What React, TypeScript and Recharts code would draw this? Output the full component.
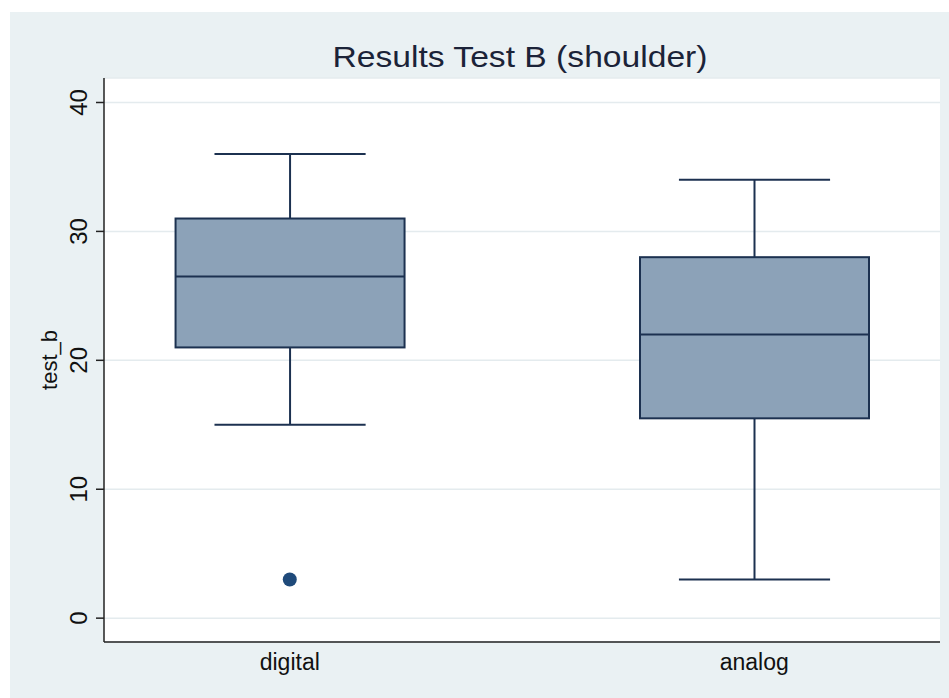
import {
  Bar,
  CartesianGrid,
  ComposedChart,
  Scatter,
  XAxis,
  YAxis,
} from 'recharts';

const GROUPS = ['digital', 'analog'];
const GROUP_POS = [1, 2];
const WHISKER_LOW = [15, 3];
const Q1 = [21, 15.5];
const MEDIAN = [26.5, 22];
const Q3 = [31, 28];
const WHISKER_HIGH = [36, 34];
const OUTLIER_GROUP = [1];
const OUTLIER_VALUE = [3];
const Y_TICKS = [0, 10, 20, 30, 40];

const FONT = '"Liberation Sans", Arial, Helvetica, sans-serif';
const NAVY = '#1C3150';

const boxData = GROUPS.map((name, i) => ({
  name,
  pos: GROUP_POS[i],
  range: [WHISKER_LOW[i], WHISKER_HIGH[i]],
  lo: WHISKER_LOW[i],
  q1: Q1[i],
  med: MEDIAN[i],
  q3: Q3[i],
  hi: WHISKER_HIGH[i],
}));

const outliers = OUTLIER_GROUP.map((g, i) => ({ pos: g, value: OUTLIER_VALUE[i] }));

// the bar spans lo..hi, everything else is placed on the same linear scale
function BoxShape(props: any) {
  const { x, y, width, height, payload } = props;
  const { lo, q1, med, q3, hi } = payload;
  const py = (v: number) => y + (height * (hi - v)) / (hi - lo);
  const cx = x + width / 2;
  const cap = width * 0.33;
  return (
    <g>
      <line x1={cx} x2={cx} y1={py(hi)} y2={py(q3)} stroke={NAVY} strokeWidth={2} />
      <line x1={cx} x2={cx} y1={py(q1)} y2={py(lo)} stroke={NAVY} strokeWidth={2} />
      <line x1={cx - cap} x2={cx + cap} y1={py(hi)} y2={py(hi)} stroke={NAVY} strokeWidth={2} />
      <line x1={cx - cap} x2={cx + cap} y1={py(lo)} y2={py(lo)} stroke={NAVY} strokeWidth={2} />
      <rect
        x={x}
        y={py(q3)}
        width={width}
        height={py(q1) - py(q3)}
        fill="#8CA2B8"
        stroke={NAVY}
        strokeWidth={2}
      />
      <line x1={x} x2={x + width} y1={py(med)} y2={py(med)} stroke={NAVY} strokeWidth={2} />
    </g>
  );
}

function YTick({ x, y, payload }: any) {
  const bx = x - 9;
  return (
    <text
      x={bx}
      y={y}
      transform={`rotate(-90, ${bx}, ${y})`}
      textAnchor="middle"
      fontSize={24}
      fontFamily={FONT}
      fill="#111"
    >
      {payload.value}
    </text>
  );
}

function XTick({ x, y, payload }: any) {
  const idx = GROUP_POS.indexOf(payload.value);
  return (
    <text x={x} y={y + 28} textAnchor="middle" fontSize={23} fontFamily={FONT} fill="#111">
      {GROUPS[idx]}
    </text>
  );
}

function YLabel({ viewBox }: any) {
  const cy = viewBox.y + viewBox.height / 2;
  const bx = 47;
  return (
    <text
      x={bx}
      y={cy}
      transform={`rotate(-90, ${bx}, ${cy})`}
      textAnchor="middle"
      fontSize={22}
      fontFamily={FONT}
      fill="#111"
    >
      test_b
    </text>
  );
}

export default function App() {
  return (
    <div
      style={{
        position: 'fixed',
        left: 0,
        top: 0,
        width: 949,
        height: 698,
        background: '#fff',
        overflow: 'hidden',
      }}
    >
      <div
        style={{
          position: 'absolute',
          left: 10,
          top: 12,
          width: 939,
          height: 686,
          background: '#EAF1F3',
        }}
      >
        <ComposedChart
          width={939}
          height={686}
          data={boxData}
          margin={{ top: 66, right: 9, bottom: 0, left: 0 }}
        >
          <CartesianGrid
            vertical={false}
            stroke="#E4EBEE"
            strokeWidth={1.5}
            fill="#FFFFFF"
            fillOpacity={1}
          />
          <XAxis
            type="number"
            dataKey="pos"
            domain={[0.6, 2.4]}
            ticks={GROUP_POS}
            height={56}
            tickSize={0}
            tickMargin={0}
            tickLine={false}
            tick={<XTick />}
            axisLine={{ stroke: '#222', strokeWidth: 1.5 }}
          />
          <YAxis
            type="number"
            domain={[-1.85, 41.9]}
            ticks={Y_TICKS}
            width={94}
            tickSize={8}
            tickMargin={0}
            tick={<YTick />}
            tickLine={{ stroke: '#222', strokeWidth: 1.5 }}
            axisLine={{ stroke: '#222', strokeWidth: 1.5 }}
            allowDataOverflow
            label={{ content: (p: any) => <YLabel {...p} /> }}
          />
          <Bar dataKey="range" barSize={229} shape={<BoxShape />} isAnimationActive={false} />
          <Scatter
            data={outliers}
            dataKey="value"
            fill="#1F4A7A"
            isAnimationActive={false}
            shape={(p: any) => <circle cx={p.cx} cy={p.cy} r={7} fill="#1F4A7A" />}
          />
          <text
            x={510}
            y={55}
            textAnchor="middle"
            fontSize={30}
            fontFamily={FONT}
            fill="#1B2338"
            textLength={375}
            lengthAdjust="spacingAndGlyphs"
          >
            Results Test B (shoulder)
          </text>
        </ComposedChart>
      </div>
    </div>
  );
}
